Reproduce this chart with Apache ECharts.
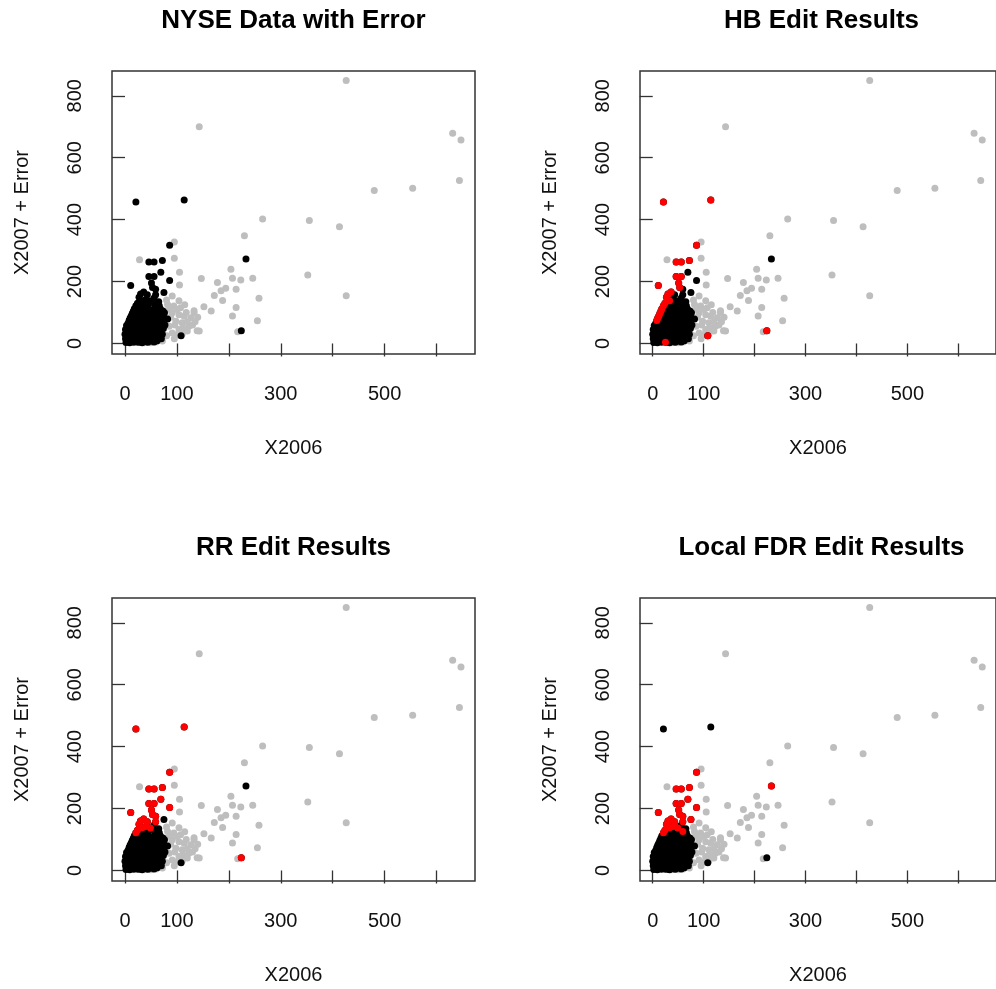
<!DOCTYPE html>
<html>
<head>
<meta charset="utf-8">
<title>NYSE edit results</title>
<script src="https://cdn.jsdelivr.net/npm/echarts@6/dist/echarts.min.js"></script>
<style>
  html, body { margin: 0; padding: 0; background: #fff; }
  #chart { width: 996px; height: 989px; }
</style>
</head>
<body>
<div id="chart"></div>
<script>
// clean records, drawn grey in every panel
const greyX = [
  426, 143, 631, 647, 644, 480, 554, 265, 355, 413, 230, 352, 426, 95, 28, 95, 105, 105,
  147, 204, 207, 223, 246, 178, 194, 185, 172, 188, 214, 258, 214, 207, 255, 152, 166, 217,
  143, 123, 133, 127, 114, 104, 91, 78, 107, 94, 82, 104, 91, 110, 98, 85, 104, 91, 69, 37, 40,
  118, 120, 112, 96, 88, 100, 115, 80, 86, 72, 60, 50, 80, 95, 100, 110, 120, 130, 135, 140,
  75, 80, 70, 133, 139
]
const greyY = [
  849, 700, 679, 657, 526, 494, 501, 402, 397, 377, 348, 221, 154, 328, 270, 275, 230, 189,
  210, 240, 211, 205, 211, 197, 178, 170, 155, 139, 175, 146, 116, 89, 73, 119, 105, 38,
  40, 56, 99, 83, 88, 93, 99, 104, 115, 121, 126, 138, 153, 67, 72, 56, 45, 34, 18, 2, 3,
  100, 70, 50, 60, 85, 110, 125, 140, 113, 8, 5, 2, 25, 15, 28, 30, 40, 60, 70, 85,
  70, 80, 95, 106, 41
]

// records with the added error (black in the first panel)
const errX = [
  21, 114, 86, 233, 224, 108, 46, 56, 72, 46, 56, 69, 86, 11, 51, 53, 59, 75, 82, 59,
  30, 27, 33, 36, 24, 21, 18, 16, 14, 12, 10, 8, 25, 56, 43, 49, 59, 40, 65,
  2, 5, 9, 13, 17, 21, 29, 33, 38, 44, 50, 56, 62,
  1, 4, 8, 12, 16, 20, 24, 28, 32, 36, 41, 46, 52, 58, 64, 70,
  0, 3, 7, 11, 15, 19, 23, 27, 31, 35, 39, 43, 48, 54, 60, 66, 72,
  1, 4, 8, 12, 16, 20, 24, 28, 32, 37, 42, 47, 53, 58, 63, 69, 74,
  3, 6, 10, 13, 17, 21, 26, 30, 35, 40, 45, 50, 56, 61, 67, 72, 77,
  9, 11, 15, 19, 23, 28, 33, 38, 43, 48, 53, 59, 64, 70, 75,
  15, 17, 21, 25, 30, 35, 40, 45, 50, 55, 61, 66, 71, 76,
  19, 24, 28, 33, 38, 43, 48, 53, 58, 63, 68, 73,
  29, 34, 40, 45, 57, 66
]
const errY = [
  457, 463, 317, 273, 41, 25, 263, 263, 268, 216, 216, 230, 203, 187, 195, 181, 175, 165, 79, 157,
  160, 149, 138, 166, 130, 122, 112, 104, 97, 89, 82, 74, 4, 147, 157, 137, 126, 142, 135,
  3, 8, 2, 6, 4, 9, 5, 2, 7, 4, 8, 5, 9,
  15, 20, 14, 18, 22, 15, 19, 13, 21, 16, 20, 14, 19, 16, 20, 15,
  30, 27, 33, 28, 35, 30, 26, 34, 29, 36, 27, 33, 29, 35, 28, 33, 30,
  45, 40, 48, 42, 50, 44, 41, 49, 45, 51, 43, 48, 42, 50, 45, 41, 48,
  58, 65, 56, 62, 68, 59, 65, 57, 63, 68, 58, 66, 60, 67, 57, 64, 60,
  76, 80, 73, 84, 77, 82, 74, 80, 84, 75, 81, 73, 82, 76, 84,
  92, 100, 89, 96, 91, 99, 88, 95, 100, 90, 97, 89, 95, 99,
  108, 114, 105, 112, 106, 115, 109, 104, 113, 107, 112, 105,
  119, 126, 120, 124, 127, 122
]

// indices into errX / errY flagged by each edit (drawn red)
const hbFlag = [0, 1, 2, 4, 5, 6, 7, 8, 9, 10, 13, 14, 15, 20, 21, 22, 23, 24, 25, 26, 27, 28, 29, 30, 31, 32]
const rrFlag = [0, 1, 2, 4, 6, 7, 8, 9, 10, 11, 12, 13, 14, 15, 16, 19, 20, 21, 22, 23, 24, 25, 34, 35, 37]
const fdrFlag = [2, 3, 6, 7, 8, 9, 10, 11, 12, 13, 14, 15, 16, 17, 19, 20, 21, 22, 23, 24, 25, 34, 35, 36, 37]

const titles = ['NYSE Data with Error', 'HB Edit Results', 'RR Edit Results', 'Local FDR Edit Results']
const xTicks = [0, 100, 200, 300, 400, 500, 600]
const xLabels = [0, 100, 300, 500]
const yTicks = [0, 200, 400, 600, 800]

const FONT = '"Liberation Sans", Arial, sans-serif'
const W = 363
const H = 283

const panels = [
  { left: 112, top: 71, flags: null },
  { left: 640, top: 71, flags: hbFlag },
  { left: 112, top: 598, flags: rrFlag },
  { left: 640, top: 598, flags: fdrFlag }
]

const greyPts = greyX.map((x, i) => [x, greyY[i]])
const errPts = errX.map((x, i) => [x, errY[i]])

function dots(data, color, i) {
  return {
    type: 'scatter',
    xAxisIndex: i,
    yAxisIndex: i,
    data: data,
    symbol: 'circle',
    symbolSize: 7,
    itemStyle: { color: color, opacity: 1 },
    silent: true
  }
}

const grids = []
const xAxes = []
const yAxes = []
const series = []
const texts = []

panels.forEach((p, i) => {
  grids.push({
    left: p.left, top: p.top, width: W, height: H,
    show: true, borderColor: '#333', borderWidth: 1.5, backgroundColor: 'transparent'
  })
  xAxes.push({
    gridIndex: i,
    type: 'value',
    min: -25,
    max: 674,
    name: 'X2006',
    nameLocation: 'middle',
    nameGap: 84,
    nameTextStyle: { fontFamily: FONT, fontSize: 20, color: '#111' },
    axisLine: { show: false },
    splitLine: { show: false },
    axisTick: { show: true, length: 13, lineStyle: { color: '#333', width: 1.3 }, customValues: xTicks },
    axisLabel: { margin: 30, fontFamily: FONT, fontSize: 20, color: '#111', customValues: xLabels }
  })
  yAxes.push({
    gridIndex: i,
    type: 'value',
    min: -34,
    max: 880,
    name: 'X2007 + Error',
    nameLocation: 'middle',
    nameGap: 80,
    nameTextStyle: { fontFamily: FONT, fontSize: 20, color: '#111' },
    axisLine: { show: false },
    splitLine: { show: false },
    axisTick: { show: true, length: 13, lineStyle: { color: '#333', width: 1.3 }, customValues: yTicks },
    axisLabel: { rotate: 90, margin: 27, fontFamily: FONT, fontSize: 20, color: '#111', customValues: yTicks }
  })
  series.push(dots(greyPts, '#bebebe', i))
  series.push(dots(errPts, '#000000', i))
  if (p.flags) {
    series.push(dots(p.flags.map(k => errPts[k]), '#ff0000', i))
  }
  texts.push({
    type: 'text',
    x: p.left + W / 2,
    y: p.top - 50,
    style: {
      text: titles[i],
      font: 'bold 26px ' + FONT,
      fill: '#000',
      align: 'center',
      verticalAlign: 'middle',
      textAlign: 'center',
      textVerticalAlign: 'middle'
    }
  })
})

const chart = echarts.init(document.getElementById('chart'))
chart.setOption({
  animation: false,
  backgroundColor: '#fff',
  grid: grids,
  xAxis: xAxes,
  yAxis: yAxes,
  series: series,
  graphic: { elements: texts }
})
</script>
</body>
</html>
